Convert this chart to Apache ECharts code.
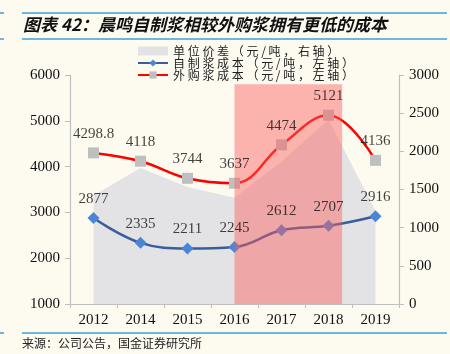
<!DOCTYPE html>
<html>
<head>
<meta charset="utf-8">
<script src="https://cdn.jsdelivr.net/npm/echarts@6/dist/echarts.min.js"></script>
<style>
html,body{margin:0;padding:0;background:#FDFAF0;}
#main{width:450px;height:354px;}
</style>
</head>
<body>
<div id="main"></div>
<script>
const years = ['2012','2014','2015','2016','2017','2018','2019'];
const selfCost = [2877, 2335, 2211, 2245, 2612, 2707, 2916];
const buyCost = [4298.8, 4118, 3744, 3637, 4474, 5121, 4136];
const spread = [1422, 1783, 1533, 1392, 1862, 2414, 1220];
const leftAxisRange = [1000, 6000, 1000];
const rightAxisRange = [0, 3000, 500];
const highlightFrom = '2016', highlightTo = '2018', highlightTop = 5800;
const nameSpread = '单位价差（元/吨，右轴）';
const nameSelf = '自制浆成本（元/吨，左轴）';
const nameBuy = '外购浆成本（元/吨，左轴）';
const titleText = '图表 42：晨鸣自制浆相较外购浆拥有更低的成本';
const sourceText = '来源：公司公告，国金证券研究所';

const serif = '"Liberation Serif","Times New Roman",serif';
const cjk = '"Noto Sans CJK SC","Noto Sans",sans-serif';
const axisGray = '#BFBFBF';

const chart = echarts.init(document.getElementById('main'), null, {renderer: 'canvas'});

const labelStyle = {show: true, position: 'top', distance: 11, fontSize: 15, fontFamily: serif, color: '#111'};
const spaced = s => s.split('').join(' ');

const option = {
  backgroundColor: '#FDFAF0',
  animation: false,
  grid: {left: 70, right: 51, top: 75, bottom: 50},
  legend: {
    orient: 'vertical', left: 132, top: 39, itemGap: -2,
    itemWidth: 30, itemHeight: 9,
    formatter: spaced,
    textStyle: {fontFamily: cjk, fontSize: 12, color: '#222', lineHeight: 14},
    data: [
      {name: nameSpread, icon: 'rect'},
      {name: nameSelf},
      {name: nameBuy}
    ]
  },
  xAxis: {
    type: 'category', data: years, boundaryGap: true,
    axisLine: {lineStyle: {color: axisGray, width: 1.2}},
    axisTick: {show: true, interval: 0, length: 4, lineStyle: {color: axisGray}},
    axisLabel: {fontFamily: serif, fontSize: 15, color: '#111', margin: 9}
  },
  yAxis: [
    {
      type: 'value', min: leftAxisRange[0], max: leftAxisRange[1], interval: leftAxisRange[2],
      splitLine: {show: false},
      axisLine: {show: true, lineStyle: {color: axisGray, width: 1.2}},
      axisTick: {show: true, length: 5, lineStyle: {color: axisGray}},
      axisLabel: {fontFamily: serif, fontSize: 15, color: '#111', margin: 10, formatter: v => String(v)}
    },
    {
      type: 'value', min: rightAxisRange[0], max: rightAxisRange[1], interval: rightAxisRange[2],
      position: 'right',
      splitLine: {show: false},
      axisLine: {show: true, lineStyle: {color: axisGray, width: 1.2}},
      axisTick: {show: true, length: 5, lineStyle: {color: axisGray}},
      axisLabel: {fontFamily: serif, fontSize: 15, color: '#111', margin: 10, formatter: v => String(v)}
    }
  ],
  series: [
    {
      name: nameSpread, type: 'line', yAxisIndex: 1, data: spread,
      symbol: 'none', lineStyle: {width: 0, color: '#E3E3E6'},
      itemStyle: {color: '#E3E3E6'},
      areaStyle: {color: '#E3E3E6', opacity: 1}, z: 1
    },
    {
      name: nameSelf, type: 'line', yAxisIndex: 0, data: selfCost, smooth: 0.4,
      symbol: 'diamond', symbolSize: 12,
      lineStyle: {color: '#3A5D9C', width: 2.5},
      itemStyle: {color: '#4A86D8'}, z: 2
    },
    {
      name: nameBuy, type: 'line', yAxisIndex: 0, data: buyCost, smooth: 0.4,
      symbol: 'rect', symbolSize: 11,
      lineStyle: {color: '#FF0000', width: 2.5},
      itemStyle: {color: '#BFBFBF'}, z: 2
    },
    {
      name: 'lblSelf', type: 'scatter', yAxisIndex: 0, data: selfCost,
      symbolSize: 1, itemStyle: {color: 'rgba(0,0,0,0)'}, label: labelStyle, z: 5, silent: true
    },
    {
      name: 'lblBuy', type: 'scatter', yAxisIndex: 0, data: buyCost,
      symbolSize: 1, itemStyle: {color: 'rgba(0,0,0,0)'}, label: labelStyle, z: 5, silent: true
    }
  ],
  graphic: [
    {type: 'line', shape: {x1: 0, y1: 13, x2: 4, y2: 13}, style: {stroke: '#3E9FD6', lineWidth: 1.5}},
    {type: 'line', shape: {x1: 22, y1: 13, x2: 447, y2: 13}, style: {stroke: '#3E9FD6', lineWidth: 1.5}},
    {type: 'line', shape: {x1: 0, y1: 39, x2: 4, y2: 39}, style: {stroke: '#3E9FD6', lineWidth: 1.5}},
    {type: 'line', shape: {x1: 22, y1: 39, x2: 447, y2: 39}, style: {stroke: '#3E9FD6', lineWidth: 1.5}},
    {type: 'line', shape: {x1: 0, y1: 333, x2: 4, y2: 333}, style: {stroke: '#3E9FD6', lineWidth: 1.5}},
    {type: 'line', shape: {x1: 22, y1: 333, x2: 447, y2: 333}, style: {stroke: '#3E9FD6', lineWidth: 1.5}},
    {type: 'text', left: 23, top: 16, style: {text: titleText, fontFamily: cjk, fontSize: 17, fontWeight: 'bold', fontStyle: 'italic', fill: '#111'}},
    {type: 'text', left: 22, top: 337, style: {text: sourceText, fontFamily: cjk, fontSize: 12, fill: '#222'}}
  ]
};
chart.setOption(option);

const xa = chart.convertToPixel({xAxisIndex: 0}, highlightFrom);
const xb0 = chart.convertToPixel({xAxisIndex: 0}, highlightTo);
const band = chart.convertToPixel({xAxisIndex: 0}, years[1]) - chart.convertToPixel({xAxisIndex: 0}, years[0]);
const xb = xb0 + band * 0.29;
const yTop = chart.convertToPixel({yAxisIndex: 0}, highlightTop);
const yBot = chart.convertToPixel({yAxisIndex: 0}, leftAxisRange[0]);
chart.setOption({
  graphic: [
    {id: 'pink', type: 'rect', z: 3, shape: {x: xa, y: yTop, width: xb - xa, height: yBot - yTop},
     style: {fill: 'rgba(250,90,90,0.45)'}}
  ]
});
</script>
</body>
</html>
